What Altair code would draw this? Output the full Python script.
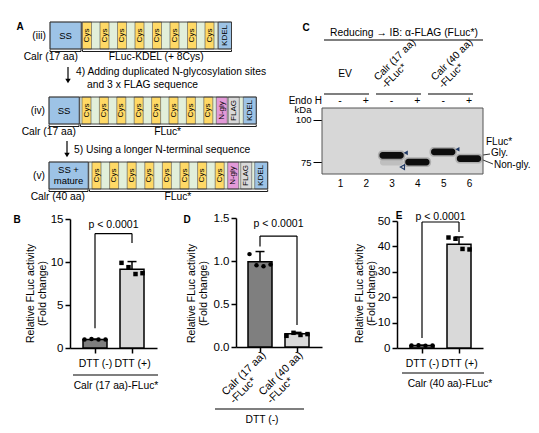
import json
import altair as alt
import pandas as pd

FONT = "Liberation Sans"
M = 8            # page margin
PW, PH = 523, 417  # plot area = page minus margins

# ------------------------------------------------------------------ data
row_names = ["(iii)", "(iv)", "(v)"]
row_left_labels = ["Calr (17 aa)", "Calr (17 aa)", "Calr (40 aa)"]
row_right_labels = ["FLuc-KDEL (+ 8Cys)", "FLuc*", "FLuc*"]
signal_labels = ["SS", "SS", "SS +\nmature"]
step_lines = ["4) Adding duplicated N-glycosylation sites",
              "and  3 x FLAG sequence",
              "5) Using a longer N-terminal sequence"]
seg_iii = [("ss", 31), ("sep", 1.5)] + [("cys", 9), ("link", 8.5)] * 7 + \
          [("cys", 9), ("link", 3.5), ("sep", 1), ("kdel", 13)]
seg_iv = [("ss", 30), ("sep", 1.5), ("link", 1.5)] + [("cys", 9), ("link", 8.4)] * 7 + \
         [("cys", 9), ("link", 3.5), ("ngly", 11), ("link", 1), ("flag", 11), ("link", 4), ("kdel", 13)]
seg_v = [("ss", 39), ("sep", 1.5), ("link", 2.5)] + [("cys", 9), ("link", 8.6)] * 7 + \
        [("cys", 9), ("link", 3.5), ("ngly", 11), ("link", 2), ("flag", 11), ("link", 3), ("kdel", 13)]
segment_text = {"cys": "Cys", "ngly": "N-gly", "flag": "FLAG", "kdel": "KDEL"}

c_title = "Reducing \u2192 IB: \u03b1-FLAG (FLuc*)"
c_groups = ["EV", "Calr (17 aa)\n-FLuc*", "Calr (40 aa)\n-FLuc*"]
lane_ids = [1, 2, 3, 4, 5, 6]
endo_h = ["-", "+", "-", "+", "-", "+"]
mw_ticks = [100, 75]
band_lane = [3, 4, 5, 6]
band_kda = [78.9, 75.0, 81.0, 77.1]
band_labels = ["FLuc*", "Gly.", "Non-gly."]

B_groups = ["DTT (-)", "DTT (+)"]
B_means = [1.0, 9.15]
B_sd = [0.04, 0.9]
B_points = [[1.0, 1.05, 1.0, 0.98], [9.9, 9.4, 8.6, 8.7]]
B_title = "Calr (17 aa)-FLuc*"

D_groups = ["Calr (17 aa)\n-FLuc*", "Calr (40 aa)\n-FLuc*"]
D_means = [0.99, 0.155]
D_sd = [0.12, 0.015]
D_points = [[1.08, 0.95, 0.94, 0.96], [0.13, 0.165, 0.14, 0.15]]
D_title = "DTT (-)"

E_groups = ["DTT (-)", "DTT (+)"]
E_means = [1.0, 40.8]
E_sd = [0.12, 2.9]
E_points = [[1.0, 1.1, 0.9, 1.0], [43.5, 43.0, 39.0, 38.8]]
E_title = "Calr (40 aa)-FLuc*"

y_title = ["Relative FLuc activity", "(Fold change)"]
p_text = "p < 0.0001"

# ------------------------------------------------------------------ styles
COL = {"ss": "#9dc3e6", "sep": "#595959", "link": "#e2efda", "cys": "#ffd966",
       "ngly": "#e39ad8", "flag": "#d9d9d9", "kdel": "#9dc3e6"}
BAR_FILLS = ["#7f7f7f", "#d9d9d9"]

PX = alt.Scale(domain=[0, PW + 2 * M], range=[-M, PW + M])
PY = alt.Scale(domain=[0, PH + 2 * M], range=[-M, PH + M])

layers = []


def pxy(xf="x", yf="y"):
    return dict(x=alt.X(f"{xf}:Q", scale=PX, axis=None),
                y=alt.Y(f"{yf}:Q", scale=PY, axis=None))


def ptext(rows, size=10.3, align="center", baseline="middle", angle=0, bold=False, **kw):
    df = pd.DataFrame(rows, columns=["x", "y", "t"])
    layers.append(alt.Chart(df).mark_text(font=FONT, fontSize=size, align=align, baseline=baseline,
                                          angle=angle, fontWeight="bold" if bold else "normal",
                                          color="black", lineBreak="\n", **kw).encode(text="t:N", **pxy()))


def prule(rows, width=1.0, color="black"):
    df = pd.DataFrame(rows, columns=["x", "x2", "y", "y2"])
    layers.append(alt.Chart(df).mark_rule(color=color, strokeWidth=width).encode(
        x2="x2:Q", y2="y2:Q", **pxy()))


# ------------------------------------------------------------------ panel A
rows_segs = [seg_iii, seg_iv, seg_v]
row_x0 = [50, 49, 49]
row_top = [22, 97, 162]
row_h = 27
rect_rows, box_rows, vtxt, htxt, outline, brackets, labels = [], [], [], [], [], [], []
for i, segs in enumerate(rows_segs):
    x = row_x0[i]
    top, bot = row_top[i], row_top[i] + row_h
    ss_end = None
    for kind, w in segs:
        r = dict(x=x, x2=x + w, y=top, y2=bot, fill=COL[kind])
        (rect_rows if kind in ("link", "sep") else box_rows).append(r)
        if kind in segment_text:
            vtxt.append((x + w / 2, (top + bot) / 2, segment_text[kind]))
        if kind == "ss":
            n_lines = signal_labels[i].count("\n")
            htxt.append((x + w / 2, (top + bot) / 2 - n_lines * 5.5, signal_labels[i]))
            ss_end = x + w
        x += w
    outline.append(dict(x=row_x0[i], x2=x, y=top, y2=bot))
    by = bot + 2.5
    for a, b in [(row_x0[i], ss_end), (ss_end + 1.5, x)]:
        brackets += [(a, b, by, by), (a, a, bot + 0.5, by), (b, b, bot + 0.5, by)]
    labels.append((ss_end - 3, bot + 8, row_left_labels[i], "right"))
    labels.append(((ss_end + x) / 2, bot + 8, row_right_labels[i], "center"))
    labels.append((row_x0[i] - 4, (top + bot) / 2, row_names[i], "right"))

layers.append(alt.Chart(pd.DataFrame(rect_rows)).mark_rect().encode(
    x2="x2:Q", y2="y2:Q", fill=alt.Fill("fill:N", scale=None), **pxy()))
layers.append(alt.Chart(pd.DataFrame(box_rows)).mark_rect(stroke="#4d4d4d", strokeWidth=0.6).encode(
    x2="x2:Q", y2="y2:Q", fill=alt.Fill("fill:N", scale=None), **pxy()))
layers.append(alt.Chart(pd.DataFrame(outline)).mark_rect(fillOpacity=0, stroke="#333333", strokeWidth=0.9).encode(
    x2="x2:Q", y2="y2:Q", **pxy()))
ptext(vtxt, size=8, angle=270)
ptext(htxt, size=9.5, lineHeight=11)
prule(brackets, width=0.9)
ptext([(a, b, t) for a, b, t, al in labels if al == "right"], align="right")
ptext([(a, b, t) for a, b, t, al in labels if al == "center"])

prule([(68, 68, 67, 79), (67, 67, 141, 153)], width=1.2)
layers.append(alt.Chart(pd.DataFrame({"x": [68, 67], "y": [81, 155]})).mark_point(
    shape="triangle-down", filled=True, color="black", size=30, opacity=1).encode(**pxy()))
ptext([(76, 72, step_lines[0]), (87, 85, step_lines[1]), (74, 150, step_lines[2])], align="left")
ptext([(20, 27, "A"), (306, 28, "C"), (17, 220, "B"), (187, 220, "D"), (399, 216, "E")], size=10, bold=True)

# ------------------------------------------------------------------ panel C annotations
ptext([(404, 33, c_title), (345, 74, c_groups[0])])
ptext([(378, 81, c_groups[1]), (435, 81, c_groups[2])], size=10.2, align="left",
      baseline="alphabetic", angle=315, lineHeight=11)
prule([(324, 483, 40, 40), (324, 369, 94, 94), (376, 421, 94, 94), (428, 473, 94, 94)], width=1.1)
ptext([(322, 100.5, "Endo H")], size=10, align="right")
ptext([(303, 110, "kDa")], size=9.5)
ptext([(486, 142, band_labels[0]), (491, 153, band_labels[1]), (494, 165, band_labels[2])], size=10, align="left")
prule([(483, 490, 155, 154), (483, 493, 160, 164)], width=0.8)

# ------------------------------------------------------------------ bottom annotations
prule([(73, 158, 375, 375), (215, 304, 409, 409), (402, 484, 373, 373)], width=1.1)
ptext([(116, 386, B_title), (262, 420, D_title), (450, 384, E_title)], size=10.3)
ptext([(226, 396, D_groups[0]), (263, 396, D_groups[1])], size=10.8, align="left",
      baseline="alphabetic", angle=315, lineHeight=11.5)

# ------------------------------------------------------------------ panel C blot
LX = alt.Scale(domain=[0.302, 6.543], range=[322 - M, 483 - M], nice=False, zero=False)
LY = alt.Scale(domain=[67.9, 107.1], range=[174 - M, 108 - M], nice=False, zero=False)
blot_df = pd.DataFrame({"x": [LX.domain[0]], "x2": [LX.domain[1]], "y": [LY.domain[0]], "y2": [LY.domain[1]]})
layers.append(alt.Chart(blot_df).mark_rect(fill="#d7d7d7", stroke="#555555", strokeWidth=1).encode(
    x=alt.X("x:Q", scale=LX, axis=alt.Axis(orient="bottom", offset=(174 - M) - PH, values=lane_ids,
                                          format="d", domain=False, ticks=False, labelPadding=4,
                                          labelFontSize=10, labelColor="black", labelFont=FONT,
                                          title=None, grid=False)),
    x2="x2:Q",
    y=alt.Y("y:Q", scale=LY, axis=alt.Axis(orient="left", offset=-(322 - M), values=mw_ticks, format="d",
                                          domain=False, tickSize=9, tickWidth=1, tickColor="black",
                                          labelPadding=2, labelFontSize=9.5, labelColor="black",
                                          labelFont=FONT, title=None, grid=False)),
    y2="y2:Q"))
bands = pd.DataFrame({"lane": band_lane, "kda": band_kda})


def lane_rect(df, dx, dy0, dy1, **mk):
    layers.append(alt.Chart(df).transform_calculate(
        x=f"datum.lane - {dx}", x2=f"datum.lane + {dx}", y=f"datum.kda + {dy0}", y2=f"datum.kda + {dy1}").mark_rect(
        **mk).encode(x=alt.X("x:Q", scale=LX, axis=None), x2="x2:Q", y=alt.Y("y:Q", scale=LY, axis=None), y2="y2:Q"))


lane_rect(bands.iloc[[0]], 0.45, -6.0, -2.0, fill="#333333", opacity=0.15, cornerRadius=3)
lane_rect(bands, 0.53, -2.9, 2.9, fill="#222222", opacity=0.22, cornerRadius=4)
lane_rect(bands, 0.47, -2.0, 2.0, fill="#0d0d0d", cornerRadius=3)
layers.append(alt.Chart(bands.iloc[[0, 2]]).transform_calculate(ax="datum.lane + 0.55", ay="datum.kda + 1.6").mark_point(
    shape="triangle-left", filled=True, color="#1f3864", size=22, opacity=1).encode(
    x=alt.X("ax:Q", scale=LX, axis=None), y=alt.Y("ay:Q", scale=LY, axis=None)))
layers.append(alt.Chart(bands.iloc[[1]]).transform_calculate(ax="datum.lane - 0.58", ay="datum.kda - 3.0").mark_point(
    shape="triangle-left", filled=False, color="#1f3864", size=22, strokeWidth=1.2, opacity=1).encode(
    x=alt.X("ax:Q", scale=LX, axis=None), y=alt.Y("ay:Q", scale=LY, axis=None)))
layers.append(alt.Chart(pd.DataFrame({"lane": lane_ids, "t": endo_h})).mark_text(
    font=FONT, fontSize=10.5, color="black").encode(
    x=alt.X("lane:Q", scale=LX, axis=None), y=alt.value(100.5 - M), text="t:N"))


# ------------------------------------------------------------------ bar panels
def bar_panel(groups, means, sds, reps, ydomain, yticks, yfmt, x_px, y_px, brk, title_x, show_labels=True):
    x0, c1, c2, x1 = x_px
    u = float(c2 - c1)
    xsc = alt.Scale(domain=[1 - (c1 - x0) / u, 2 + (x1 - c2) / u], range=[x0 - M, x1 - M], nice=False, zero=False)
    ysc = alt.Scale(domain=ydomain, range=[y_px[0] - M, y_px[1] - M], nice=False, zero=False)
    half, cap, step = 12 / u, 4.5 / u, 7 / u
    bars = pd.DataFrame({"pos": [1, 2], "mean": means, "sd": sds, "fill": BAR_FILLS})
    bars["xl"], bars["xr"], bars["zero"] = bars.pos - half, bars.pos + half, 0.0
    bars["top"], bars["cl"], bars["cr"] = bars["mean"] + bars["sd"], bars.pos - cap, bars.pos + cap
    pts = pd.DataFrame([{"pos": g + 1, "val": v, "rep": r, "shp": "ab"[g]}
                        for g in range(2) for r, v in enumerate(reps[g])])
    pts["px"] = pts.pos + (pts.rep - 1.5) * step
    axis_style = dict(domainColor="black", domainWidth=1.5, tickColor="black", tickWidth=1.5,
                      tickSize=5, grid=False, labelColor="black", labelFont=FONT, titleFont=FONT,
                      titleColor="black", titleFontWeight="normal")
    xaxis = alt.Axis(orient="bottom", offset=(y_px[0] - M) - PH, values=[1, 2], title=None,
                     labelExpr=f"{json.dumps(groups)}[datum.value - 1]", labels=show_labels,
                     labelFontSize=10.5, labelPadding=5, **axis_style)
    yaxis = alt.Axis(orient="left", offset=-(x0 - M), values=yticks, format=yfmt, title=y_title,
                     titleFontSize=10.5, titleLineHeight=12.5, titleX=title_x - x0, titleY=293 - M,
                     titleAngle=270, titleBaseline="bottom", titleAlign="center",
                     labelFontSize=11.5, labelPadding=2, **axis_style)
    layers.append(alt.Chart(bars).mark_rect(stroke="black", strokeWidth=1.5).encode(
        x=alt.X("xl:Q", scale=xsc, axis=xaxis), x2="xr:Q",
        y=alt.Y("mean:Q", scale=ysc, axis=yaxis), y2="zero:Q",
        fill=alt.Fill("fill:N", scale=None)))
    layers.append(alt.Chart(bars).mark_rule(color="black", strokeWidth=1.5).encode(
        x=alt.X("pos:Q", scale=xsc, axis=None), y=alt.Y("mean:Q", scale=ysc, axis=None), y2="top:Q"))
    layers.append(alt.Chart(bars).mark_rule(color="black", strokeWidth=1.5).encode(
        x=alt.X("cl:Q", scale=xsc, axis=None), x2="cr:Q", y=alt.Y("top:Q", scale=ysc, axis=None)))
    layers.append(alt.Chart(pts).mark_point(filled=True, color="black", size=20, opacity=1).encode(
        x=alt.X("px:Q", scale=xsc, axis=None), y=alt.Y("val:Q", scale=ysc, axis=None),
        shape=alt.Shape("shp:N", scale=alt.Scale(domain=["a", "b"], range=["circle", "square"]), legend=None)))
    top, lb, rb, ty = brk
    br = pd.DataFrame({"x": [1, 1, 2], "x2": [2, 1, 2], "y": [top, lb, rb], "y2": [top, top, top]})
    layers.append(alt.Chart(br).mark_rule(color="black", strokeWidth=1.2).encode(
        x=alt.X("x:Q", scale=xsc, axis=None), x2="x2:Q", y=alt.Y("y:Q", scale=ysc, axis=None), y2="y2:Q"))
    layers.append(alt.Chart(pd.DataFrame({"x": [1.5], "y": [ty], "t": [p_text]})).mark_text(
        font=FONT, fontSize=10.5, color="black").encode(
        x=alt.X("x:Q", scale=xsc, axis=None), y=alt.Y("y:Q", scale=ysc, axis=None), text="t:N"))


bar_panel(B_groups, B_means, B_sd, B_points, [0, 15], [0, 5, 10, 15], "d",
          (70, 95, 132, 157), (348, 219), (13.3, 2.3, 12.2, 14.35), title_x=35)
bar_panel(D_groups, D_means, D_sd, D_points, [0, 1.5], [0, 0.5, 1.0, 1.5], ".1f",
          (236, 260, 297, 322), (347, 218), (1.29, 1.17, 0.255, 1.43), title_x=196, show_labels=False)
bar_panel(E_groups, E_means, E_sd, E_points, [0, 50], [0, 10, 20, 30, 40, 50], "d",
          (397, 422, 459, 483), (348, 221), (49.6, 3.9, 45.7, 51.6), title_x=364)

chart = alt.layer(*layers).resolve_scale(
    x="independent", y="independent").properties(
    width=PW, height=PH, padding=0, autosize=alt.AutoSizeParams(type="none"),
    background="white").configure_view(stroke=None)

chart.save("out.html", embed_options={"renderer": "svg", "actions": False})
